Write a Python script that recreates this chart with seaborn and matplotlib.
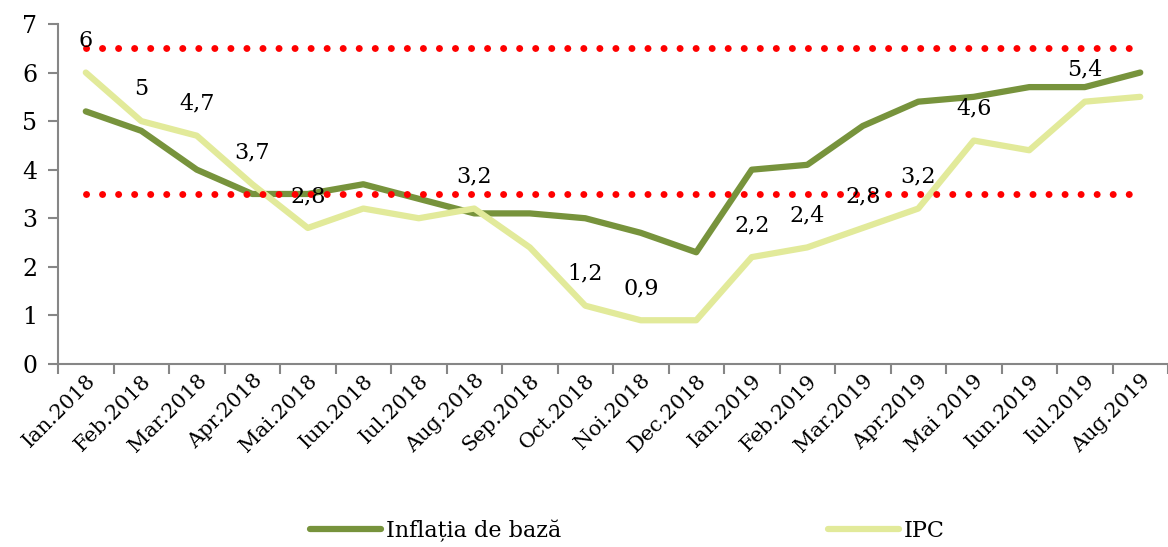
import matplotlib
matplotlib.use("Agg")
import matplotlib.pyplot as plt
import seaborn as sns
import numpy as np
import pandas as pd

months = ["Ian.2018", "Feb.2018", "Mar.2018", "Apr.2018", "Mai.2018", "Iun.2018",
          "Iul.2018", "Aug.2018", "Sep.2018", "Oct.2018", "Noi.2018", "Dec.2018",
          "Ian.2019", "Feb.2019", "Mar.2019", "Apr.2019", "Mai 2019", "Iun.2019",
          "Iul.2019", "Aug.2019"]
inflatia_baza = [5.2, 4.8, 4.0, 3.5, 3.5, 3.7, 3.4, 3.1, 3.1, 3.0, 2.7, 2.3,
                 4.0, 4.1, 4.9, 5.4, 5.5, 5.7, 5.7, 6.0]
ipc = [6.0, 5.0, 4.7, 3.7, 2.8, 3.2, 3.0, 3.2, 2.4, 1.2, 0.9, 0.9,
       2.2, 2.4, 2.8, 3.2, 4.6, 4.4, 5.4, 5.5]
ipc_labelled = [True, True, True, True, True, False, False, True, False, True, True, False,
                True, True, True, True, True, False, True, False]
upper_band = [6.5] * len(months)
lower_band = [3.5] * len(months)

sns.set_style("white")
plt.rcParams['font.family'] = ['DejaVu Serif']
plt.rcParams['text.color'] = 'black'
plt.rcParams['xtick.color'] = '#868686'
plt.rcParams['ytick.color'] = '#868686'
plt.rcParams['xtick.labelcolor'] = 'black'
plt.rcParams['ytick.labelcolor'] = 'black'

df = pd.DataFrame({"pos": np.arange(len(months)), "luna": months,
                   "baza": inflatia_baza, "ipc": ipc,
                   "sus": upper_band, "jos": lower_band})

fig = plt.figure(figsize=(11.68, 5.47), dpi=100)
ax = fig.add_axes([0.0497, 0.3346, 0.9503, 0.6216])

green = "#77933C"
light = "#E2EA9A"
sns.lineplot(data=df, x="pos", y="baza", ax=ax, color=green, linewidth=4.5,
             solid_capstyle="round", label="Inflația de bază", zorder=2)
sns.lineplot(data=df, x="pos", y="ipc", ax=ax, color=light, linewidth=4.5,
             solid_capstyle="round", label="IPC", zorder=3)
for col in ["sus", "jos"]:
    sns.lineplot(data=df, x="pos", y=col, ax=ax, color="#FF0000", linewidth=5,
                 linestyle=(0, (0.01, 2.3)), dash_capstyle="round", zorder=4,
                 legend=False)

for i, (v, show) in enumerate(zip(ipc, ipc_labelled)):
    if show:
        txt = f"{v:g}".replace(".", ",")
        ax.annotate(txt, (i, v), xytext=(0, 23), textcoords="offset points",
                    ha="center", va="center", fontsize=16, color="black", zorder=5)

ax.set_xlim(-0.5, len(months) - 0.5)
ax.set_ylim(0, 7)
ax.set_yticks(range(0, 8))
ax.set_yticklabels([str(t) for t in range(0, 8)], fontsize=17)
ax.set_xticks(np.arange(len(months)))
ax.set_xticklabels(months, rotation=45, ha="right", rotation_mode="anchor", fontsize=15)
ax.set_xticks(np.arange(len(months) + 1) - 0.5, minor=True)
ax.tick_params(axis="x", which="major", bottom=True, length=0, pad=5)
ax.tick_params(axis="x", which="minor", bottom=True, length=7, width=1.5,
               color="#868686", direction="out")
ax.tick_params(axis="y", left=True, length=7, width=1.5, color="#868686",
               direction="out", pad=8)
ax.set_xlabel("")
ax.set_ylabel("")
for s in ["top", "right"]:
    ax.spines[s].set_visible(False)
for s in ["left", "bottom"]:
    ax.spines[s].set_color("#868686")
    ax.spines[s].set_linewidth(1.5)

ax.legend_.remove()
handles, labels = ax.get_legend_handles_labels()
fig.legend(handles, labels, loc="center", bbox_to_anchor=(0.537, 0.03), ncol=2,
           frameon=False, fontsize=16, handlelength=3.2, handletextpad=0.2,
           columnspacing=12.0, labelcolor="black")

fig.savefig("out.png", dpi=100)
